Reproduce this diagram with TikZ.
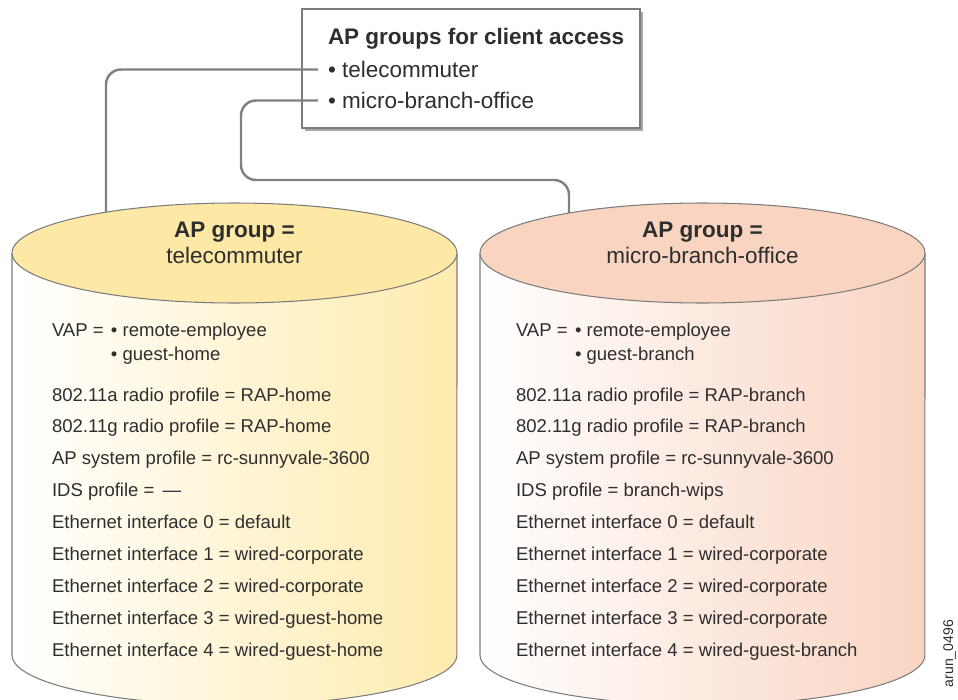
\documentclass[tikz,border=0pt]{standalone}
\usepackage{fontspec}
\setmainfont{Liberation Sans}
\usetikzlibrary{shadows}

\definecolor{ink}{HTML}{2E2E2E}
\definecolor{rimGray}{HTML}{7C7C7C}
\definecolor{connGray}{HTML}{808080}
\definecolor{shadowGray}{HTML}{A6A6A6}
\definecolor{yelTop}{HTML}{FDE8A6}
\definecolor{yelBody}{HTML}{FEEBAE}
\definecolor{pchTop}{HTML}{F9D4C1}
\definecolor{pchBody}{HTML}{F9D4C2}

\tikzset{
  every node/.style={inner sep=0pt, outer sep=0pt, text=ink},
  hdr/.style={font=\fontsize{12.8}{15}\selectfont, anchor=base},
  hdrb/.style={font=\fontsize{12.8}{15}\selectfont\bfseries, anchor=base},
  boxline/.style={font=\fontsize{12.8}{15}\selectfont, anchor=base west},
  item/.style={font=\fontsize{10.55}{12}\selectfont, anchor=base west},
  conn/.style={draw=connGray, line width=1.4pt, rounded corners=0.3cm},
  rim/.style={draw=rimGray, line width=0.6pt},
}

\begin{document}
\begin{tikzpicture}[x=0.02cm, y=0.02cm]
\useasboundingbox (0,0) rectangle (958,-700);

% ---- group list box ----
\node (grpbox) [draw=rimGray, line width=0.7pt, fill=white,
  minimum width=6.76cm, minimum height=2.38cm,
  drop shadow={shadow xshift=0.06cm, shadow yshift=-0.06cm, fill=shadowGray, opacity=1}]
  at (471,-68.5) {};
\node (ttl) [boxline, font=\fontsize{12.8}{15}\selectfont\bfseries] at (328,-44) {AP groups for client access};
\node (tc) [boxline] at (328,-77) {• telecommuter};
\node (mb) [boxline] at (328,-108) {• micro-branch-office};

% ---- connector end points ----
\coordinate (tcEnd) at (318,-69.5);
\coordinate (mbEnd) at (318,-100.5);
\coordinate (capL) at (106,-214);
\coordinate (capR) at (569,-215);

\draw[conn] (tcEnd) -| (capL);
\draw[conn] (mbEnd) -| (241,-180) -| (capR);

% ---- left cylinder ----
\shade[left color=white, right color=yelBody]
  (12,-253) -- (12,-655) arc[start angle=180, end angle=360, x radius=4.45cm, y radius=1cm]
  -- (457,-253) -- cycle;
\draw[rim] (12,-253) -- (12,-655) arc[start angle=180, end angle=360, x radius=4.45cm, y radius=1cm]
  -- (457,-253);
\draw[rim, fill=yelTop] (234.5,-253) ellipse[x radius=4.45cm, y radius=1cm];

% ---- right cylinder ----
\shade[left color=white, right color=pchBody]
  (480,-253) -- (480,-655) arc[start angle=180, end angle=360, x radius=4.45cm, y radius=1cm]
  -- (925,-253) -- cycle;
\draw[rim] (480,-253) -- (480,-655) arc[start angle=180, end angle=360, x radius=4.45cm, y radius=1cm]
  -- (925,-253);
\draw[rim, fill=pchTop] (702.5,-253) ellipse[x radius=4.45cm, y radius=1cm];

% ---- cylinder headings ----
\node (hL1) [hdrb] at (234.5,-237) {AP group =};
\node (hL2) [hdr]  at (234.5,-263) {telecommuter};
\node (hR1) [hdrb] at (702.5,-237) {AP group =};
\node (hR2) [hdr]  at (702.5,-263) {micro-branch-office};

% ---- telecommuter settings ----
\node (lvap)  [item] at (52,-336)  {VAP =};
\node (lvap1) [item] at (111,-336) {• remote-employee};
\node (lvap2) [item] at (111,-360) {• guest-home};
\node (l1) [item] at (52,-401) {802.11a radio profile = RAP-home};
\node (l2) [item] at (52,-432) {802.11g radio profile = RAP-home};
\node (l3) [item] at (52,-464) {AP system profile = rc-sunnyvale-3600};
\node (l4) [item] at (52,-496) {IDS profile = \,—};
\node (l5) [item] at (52,-528) {Ethernet interface 0 = default};
\node (l6) [item] at (52,-560) {Ethernet interface 1 = wired-corporate};
\node (l7) [item] at (52,-592) {Ethernet interface 2 = wired-corporate};
\node (l8) [item] at (52,-624) {Ethernet interface 3 = wired-guest-home};
\node (l9) [item] at (52,-656) {Ethernet interface 4 = wired-guest-home};

% ---- micro-branch-office settings ----
\node (rvap)  [item] at (516,-336) {VAP =};
\node (rvap1) [item] at (575,-336) {• remote-employee};
\node (rvap2) [item] at (575,-360) {• guest-branch};
\node (r1) [item] at (516,-401) {802.11a radio profile = RAP-branch};
\node (r2) [item] at (516,-432) {802.11g radio profile = RAP-branch};
\node (r3) [item] at (516,-464) {AP system profile = rc-sunnyvale-3600};
\node (r4) [item] at (516,-496) {IDS profile = branch-wips};
\node (r5) [item] at (516,-528) {Ethernet interface 0 = default};
\node (r6) [item] at (516,-560) {Ethernet interface 1 = wired-corporate};
\node (r7) [item] at (516,-592) {Ethernet interface 2 = wired-corporate};
\node (r8) [item] at (516,-624) {Ethernet interface 3 = wired-corporate};
\node (r9) [item] at (516,-656) {Ethernet interface 4 = wired-guest-branch};

% ---- figure tag ----
\node (tag) [rotate=90, anchor=base east, font=\fontsize{8}{10}\selectfont] at (953,-620) {arun\_0496};
\end{tikzpicture}
\end{document}
